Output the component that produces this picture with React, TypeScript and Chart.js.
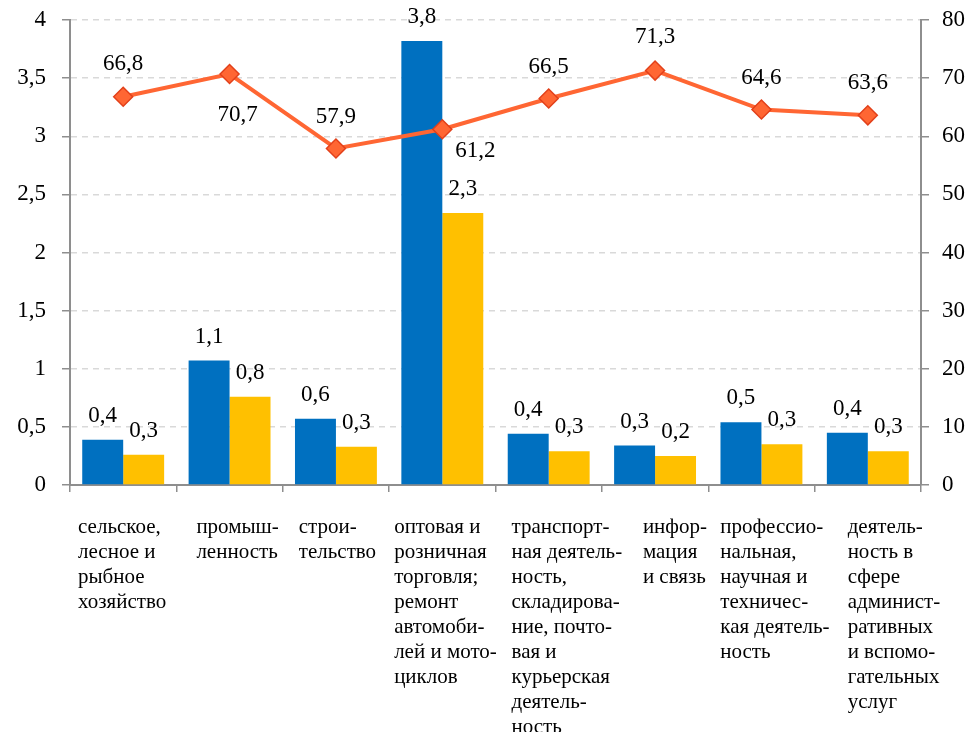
import { useEffect, useRef } from 'react';
import { Chart, registerables } from 'chart.js';

Chart.register(...registerables);

const FONT = "'Liberation Serif', 'Times New Roman', serif";

const categories: string[][] = [
  ['сельское,', 'лесное и', 'рыбное', 'хозяйство'],
  ['промыш-', 'ленность'],
  ['строи-', 'тельство'],
  ['оптовая и', 'розничная', 'торговля;', 'ремонт', 'автомоби-', 'лей и мото-', 'циклов'],
  ['транспорт-', 'ная деятель-', 'ность,', 'складирова-', 'ние, почто-', 'вая и', 'курьерская', 'деятель-', 'ность'],
  ['инфор-', 'мация', 'и связь'],
  ['профессио-', 'нальная,', 'научная и', 'техничес-', 'кая деятель-', 'ность'],
  ['деятель-', 'ность в', 'сфере', 'админист-', 'ративных', 'и вспомо-', 'гательных', 'услуг'],
];

const blueValues = [0.39, 1.07, 0.57, 3.82, 0.44, 0.34, 0.54, 0.45];
const blueLabels = ['0,4', '1,1', '0,6', '3,8', '0,4', '0,3', '0,5', '0,4'];
const yellowValues = [0.26, 0.76, 0.33, 2.34, 0.29, 0.25, 0.35, 0.29];
const yellowLabels = ['0,3', '0,8', '0,3', '2,3', '0,3', '0,2', '0,3', '0,3'];
const lineValues = [66.8, 70.7, 57.9, 61.2, 66.5, 71.3, 64.6, 63.6];

// label layout (offsets of the value labels relative to their point, in px)
const lineLabelOffsets: [number, number][] = [
  [0, -33], [8, 41], [0, -32], [33, 22], [0, -32], [0, -34], [0, -32], [0, -32],
];
// left indent of each category label block inside its category band (px)
const catLabelIndent = [8, 20, 16, 5, 16, 41, 12, 33];

const fmt = (v: number) => String(v).replace('.', ',');

const AXIS = '#8E8E8E';
const GRID = '#D9D9D9';

export default function App() {
  const ref = useRef<HTMLCanvasElement | null>(null);

  useEffect(() => {
    if (!ref.current) return;

    const labelPlugin = {
      id: 'valueLabels',
      afterDatasetsDraw(chart: any) {
        const ctx = chart.ctx;
        ctx.save();
        ctx.font = `23px ${FONT}`;
        ctx.fillStyle = '#000';
        ctx.textAlign = 'center';
        ctx.textBaseline = 'middle';
        const barLabels = [blueLabels, yellowLabels];
        [0, 1].forEach((di) => {
          chart.getDatasetMeta(di).data.forEach((el: any, i: number) => {
            ctx.fillText(barLabels[di][i], el.x, el.y - 24);
          });
        });
        chart.getDatasetMeta(2).data.forEach((el: any, i: number) => {
          const [dx, dy] = lineLabelOffsets[i];
          ctx.fillText(fmt(lineValues[i]), el.x + dx, el.y + dy);
        });
        ctx.restore();
      },
      afterDraw(chart: any) {
        const ctx = chart.ctx;
        const xs = chart.scales.x;
        const band = (xs.right - xs.left) / categories.length;
        ctx.save();
        ctx.font = `21px ${FONT}`;
        ctx.fillStyle = '#000';
        ctx.textAlign = 'left';
        ctx.textBaseline = 'alphabetic';
        categories.forEach((lines, i) => {
          const left = xs.getPixelForValue(i) - band / 2 + catLabelIndent[i];
          lines.forEach((ln, j) => {
            ctx.fillText(ln, left, xs.top + 48 + j * 25);
          });
        });
        ctx.restore();
      },
    };

    const chart = new Chart(ref.current, {
      type: 'bar',
      data: {
        labels: categories.map((c) => c.join(' ')),
        datasets: [
          {
            type: 'bar',
            data: blueValues,
            backgroundColor: '#0070C0',
            yAxisID: 'y',
            categoryPercentage: 0.77,
            barPercentage: 1,
            order: 1,
          },
          {
            type: 'bar',
            data: yellowValues,
            backgroundColor: '#FFC000',
            yAxisID: 'y',
            categoryPercentage: 0.77,
            barPercentage: 1,
            order: 1,
          },
          {
            type: 'line',
            data: lineValues,
            yAxisID: 'y1',
            borderColor: '#FF6633',
            borderWidth: 4,
            pointStyle: 'rectRot',
            pointRadius: 9.5,
            pointBackgroundColor: '#FF6633',
            pointBorderColor: '#E2401A',
            pointBorderWidth: 1.5,
            tension: 0,
            order: 0,
          } as any,
        ],
      },
      options: {
        responsive: false,
        animation: false,
        layout: { padding: { top: 20, left: 0, right: 0, bottom: 0 } },
        plugins: {
          legend: { display: false },
          tooltip: { enabled: false },
        },
        scales: {
          x: {
            type: 'category',
            offset: true,
            grid: {
              display: true,
              offset: true,
              drawOnChartArea: false,
              drawTicks: true,
              tickLength: 7,
              color: AXIS,
              lineWidth: 1.5,
            },
            border: { display: true, color: AXIS, width: 2 },
            ticks: { display: false },
            afterFit: (s: any) => {
              s.height = 247;
              s.paddingLeft = 0;
              s.paddingRight = 0;
            },
          },
          y: {
            type: 'linear',
            position: 'left',
            min: 0,
            max: 4,
            ticks: {
              stepSize: 0.5,
              padding: 16,
              color: '#000',
              font: { family: FONT, size: 23 },
              callback: (v: any) => fmt(Number(v)),
            },
            grid: {
              color: GRID,
              lineWidth: 1.5,
              drawTicks: true,
              tickLength: 8,
              tickColor: AXIS,
              tickWidth: 1.5,
            },
            border: { display: true, color: AXIS, width: 2, dash: [6, 5] },
            afterFit: (s: any) => {
              s.width = 70;
              s.paddingTop = 0;
              s.paddingBottom = 0;
            },
          },
          y1: {
            type: 'linear',
            position: 'right',
            min: 0,
            max: 80,
            ticks: {
              stepSize: 10,
              padding: 13,
              color: '#000',
              font: { family: FONT, size: 23 },
            },
            grid: {
              drawOnChartArea: false,
              drawTicks: true,
              tickLength: 8,
              color: AXIS,
              lineWidth: 1.5,
            },
            border: { display: true, color: AXIS, width: 2 },
            afterFit: (s: any) => {
              s.width = 50;
              s.paddingTop = 0;
              s.paddingBottom = 0;
            },
          },
        },
      } as any,
      plugins: [labelPlugin],
    });

    return () => chart.destroy();
  }, []);

  return (
    <div style={{ position: 'fixed', left: 0, top: 0, width: 971, height: 732, background: '#fff' }}>
      <canvas ref={ref} width={971} height={732} />
    </div>
  );
}
